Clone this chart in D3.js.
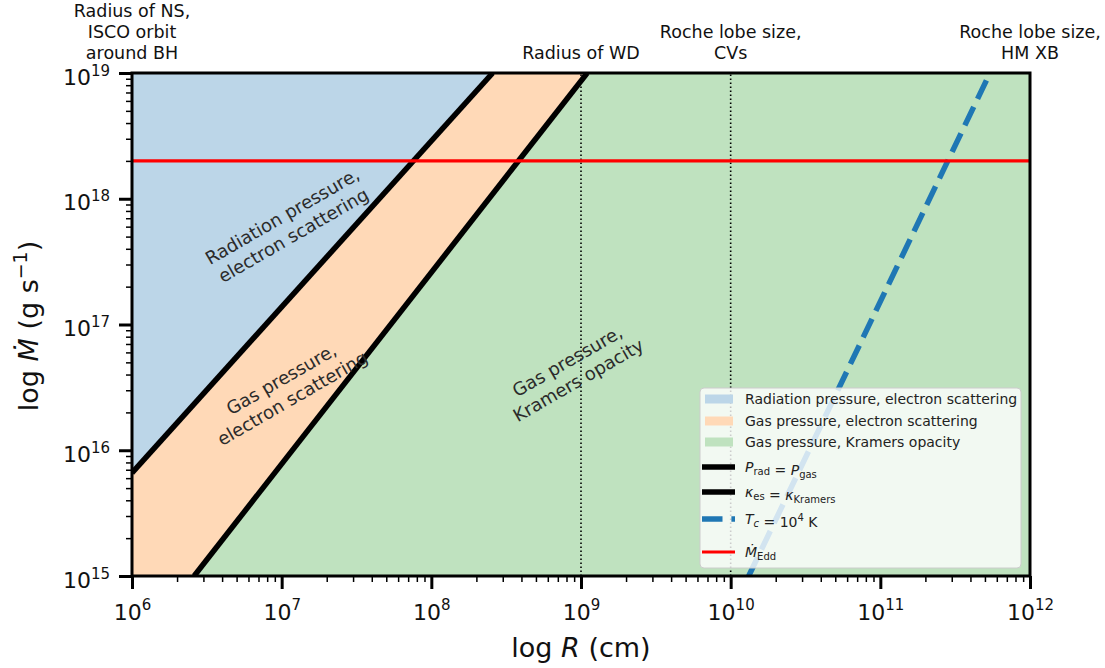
<!DOCTYPE html>
<html>
<head>
<meta charset="utf-8">
<script src="https://cdn.jsdelivr.net/npm/d3@7"></script>
<style>
  body { margin: 0; background: #fff; }
  text { font-family: 'DejaVu Sans', sans-serif; fill: #111; }
</style>
</head>
<body>
<svg id="chart" width="1105" height="668"></svg>
<script>
// boundary lines, as [R (cm), Mdot (g/s)] end points
const pradPgas = [[1e6, 6.6e15], [2.57e8, 1e19]]
const kesKramers = [[2.6e6, 1e15], [1.1e9, 1e19]]
const tc1e4 = [[1.32e10, 1e15], [5.4e11, 1e19]]
const mdotEdd = 2.0e18

// vertical markers and their labels
const dottedR = [1e9, 1e10]
const markerR = [1e6, 1e9, 1e10, 1e12]
const markerLabels = [
  ['Radius of NS,', 'ISCO orbit', 'around BH'],
  ['Radius of WD'],
  ['Roche lobe size,', 'CVs'],
  ['Roche lobe size,', 'HM XB']
]

// region names
const regionNames = [
  'Radiation pressure, electron scattering',
  'Gas pressure, electron scattering',
  'Gas pressure, Kramers opacity'
]
const regionColors = ['#bcd6e8', '#ffd9b7', '#bfe2bf']

// axis ticks
const xTicks = [1e6, 1e7, 1e8, 1e9, 1e10, 1e11, 1e12]
const yTicks = [1e15, 1e16, 1e17, 1e18, 1e19]

const svg = d3.select('#chart')
const pl = 132, pr = 1030, pt = 73, pb = 576

const x = d3.scaleLog().domain([1e6, 1e12]).range([pl, pr])
const y = d3.scaleLog().domain([1e15, 1e19]).range([pb, pt])

const [xmin, xmax] = x.domain()
const [ymin, ymax] = y.domain()

svg.append('clipPath').attr('id', 'plot')
  .append('rect')
  .attr('x', pl).attr('y', pt)
  .attr('width', pr - pl).attr('height', pb - pt)

const plot = svg.append('g').attr('clip-path', 'url(#plot)')

const line = d3.line()
  .x(function(d) { return x(d[0]) })
  .y(function(d) { return y(d[1]) })

// regions: green everywhere, orange left of kappa line, blue above Prad line
plot.append('path')
  .attr('d', line([[xmin, ymin], [xmax, ymin], [xmax, ymax], [xmin, ymax]]) + 'Z')
  .attr('fill', regionColors[2])
plot.append('path')
  .attr('d', line([[xmin, ymin]].concat(kesKramers, [[xmin, ymax]])) + 'Z')
  .attr('fill', regionColors[1])
plot.append('path')
  .attr('d', line(pradPgas.concat([[xmin, ymax]])) + 'Z')
  .attr('fill', regionColors[0])

// dotted verticals
plot.selectAll('.vline')
  .data(dottedR)
  .enter().append('line')
  .attr('x1', function(d) { return x(d) })
  .attr('x2', function(d) { return x(d) })
  .attr('y1', y(ymin)).attr('y2', y(ymax))
  .attr('stroke', '#000')
  .attr('stroke-width', 1.6)
  .attr('stroke-dasharray', '1.6,2.4')

plot.append('path').attr('d', line(pradPgas))
  .attr('fill', 'none').attr('stroke', '#000').attr('stroke-width', 5.5)
plot.append('path').attr('d', line(kesKramers))
  .attr('fill', 'none').attr('stroke', '#000').attr('stroke-width', 5.5)
plot.append('path').attr('d', line(tc1e4))
  .attr('fill', 'none').attr('stroke', '#1f77b4').attr('stroke-width', 5.5)
  .attr('stroke-dasharray', '20.5,8.9')
plot.append('path').attr('d', line([[xmin, mdotEdd], [xmax, mdotEdd]]))
  .attr('fill', 'none').attr('stroke', '#ff0000').attr('stroke-width', 3.2)

// region labels
const regionLabels = [
  {lines: ['Radiation pressure,', 'electron scattering'], cx: 288, cy: 226},
  {lines: ['Gas pressure,', 'electron scattering'], cx: 287, cy: 389},
  {lines: ['Gas pressure,', 'Kramers opacity'], cx: 573, cy: 371}
]
regionLabels.forEach(function(r) {
  const g = svg.append('g')
    .attr('transform', 'translate(' + r.cx + ',' + r.cy + ') rotate(-30)')
  r.lines.forEach(function(t, i) {
    g.append('text')
      .attr('x', 0).attr('y', -5 + i * 22)
      .attr('text-anchor', 'middle')
      .style('font-size', '18px').style('fill', '#2b2b2b')
      .text(t)
  })
})

// top labels for the markers
markerR.forEach(function(r, i) {
  const n = markerLabels[i].length
  markerLabels[i].forEach(function(t, j) {
    svg.append('text')
      .attr('x', x(r))
      .attr('y', 59 - (n - 1 - j) * 21)
      .attr('text-anchor', 'middle')
      .style('font-size', '17.5px')
      .text(t)
  })
})

// axes
const minorX = x.ticks().filter(function(d) { return xTicks.indexOf(d) < 0 })
const minorY = y.ticks().filter(function(d) { return yTicks.indexOf(d) < 0 })

function styleAxis(g) {
  g.select('.domain').remove()
  g.selectAll('.tick line').attr('stroke', '#000')
}

svg.append('g')
  .attr('transform', 'translate(0,' + pb + ')')
  .call(d3.axisBottom(x).tickValues(minorX).tickSize(6).tickFormat(''))
  .call(styleAxis)
  .selectAll('.tick line').attr('stroke-width', 1.5)
svg.append('g')
  .attr('transform', 'translate(' + pl + ',0)')
  .call(d3.axisLeft(y).tickValues(minorY).tickSize(6).tickFormat(''))
  .call(styleAxis)
  .selectAll('.tick line').attr('stroke-width', 1.5)

const xAxis = svg.append('g')
  .attr('transform', 'translate(0,' + pb + ')')
  .call(d3.axisBottom(x).tickValues(xTicks).tickSize(13).tickFormat(''))
  .call(styleAxis)
xAxis.selectAll('.tick line').attr('stroke-width', 3)
xAxis.selectAll('.tick').append('text')
  .attr('y', 44)
  .attr('text-anchor', 'middle')
  .style('font-size', '22px').style('fill', '#111')
  .each(function(d) {
    const t = d3.select(this)
    t.append('tspan').text('10')
    t.append('tspan').attr('dy', -10).style('font-size', '15px').text(Math.round(Math.log10(d)))
  })

const yAxis = svg.append('g')
  .attr('transform', 'translate(' + pl + ',0)')
  .call(d3.axisLeft(y).tickValues(yTicks).tickSize(13).tickFormat(''))
  .call(styleAxis)
yAxis.selectAll('.tick line').attr('stroke-width', 3)
yAxis.selectAll('.tick').append('text')
  .attr('x', -22).attr('y', 11)
  .attr('text-anchor', 'end')
  .style('font-size', '22px').style('fill', '#111')
  .each(function(d) {
    const t = d3.select(this)
    t.append('tspan').text('10')
    t.append('tspan').attr('dy', -9).style('font-size', '15px').text(Math.round(Math.log10(d)))
  })

// axis labels
const xl = svg.append('text')
  .attr('x', (pl + pr) / 2).attr('y', 657)
  .attr('text-anchor', 'middle')
  .style('font-size', '27px')
xl.append('tspan').text('log ')
xl.append('tspan').style('font-style', 'italic').text('R')
xl.append('tspan').text(' (cm)')

const yl = svg.append('text')
  .attr('transform', 'translate(38,' + 326 + ') rotate(-90)')
  .attr('text-anchor', 'middle')
  .style('font-size', '27px')
yl.append('tspan').text('log ')
yl.append('tspan').style('font-style', 'italic').text('M\u0307')
yl.append('tspan').text(' (g s')
yl.append('tspan').attr('dy', -11).style('font-size', '19px').text('\u22121')
yl.append('tspan').attr('dy', 11).text(')')

// legend
const lg = svg.append('g').attr('transform', 'translate(700,388)')
lg.append('rect')
  .attr('width', 321).attr('height', 180).attr('rx', 4)
  .attr('fill', '#fff').attr('fill-opacity', 0.8)
  .attr('stroke', '#ccc').attr('stroke-width', 1)

const patchY = [11, 33, 54]
regionNames.forEach(function(name, i) {
  lg.append('rect')
    .attr('x', 5).attr('y', patchY[i] - 4.5)
    .attr('width', 28).attr('height', 9)
    .attr('fill', regionColors[i])
  lg.append('text')
    .attr('x', 45).attr('y', patchY[i] + 5)
    .style('font-size', '14px').style('fill', '#222')
    .text(name)
})

const lineEntries = [
  {y: 79, color: '#000', dash: null, width: 5.5},
  {y: 104, color: '#000', dash: null, width: 5.5},
  {y: 131, color: '#1f77b4', dash: '20.5,8.9', width: 5.5},
  {y: 164, color: '#ff0000', dash: null, width: 3.2}
]
lineEntries.forEach(function(e) {
  lg.append('line')
    .attr('x1', 2).attr('x2', 35).attr('y1', e.y).attr('y2', e.y)
    .attr('stroke', e.color).attr('stroke-width', e.width)
    .attr('stroke-dasharray', e.dash)
})

function sub(t, main, s, italicMain, italicSub) {
  t.append('tspan').style('font-style', italicMain ? 'italic' : 'normal').text(main)
  t.append('tspan').attr('dy', 3).style('font-size', '10px')
    .style('font-style', italicSub ? 'italic' : 'normal').text(s)
  t.append('tspan').attr('dy', -3).text('')
}

let t = lg.append('text').attr('x', 45).attr('y', 84).style('font-size', '14px').style('fill', '#222')
sub(t, 'P', 'rad', true, false)
t.append('tspan').text(' = ')
sub(t, 'P', 'gas', true, false)

t = lg.append('text').attr('x', 45).attr('y', 109).style('font-size', '14px').style('fill', '#222')
sub(t, '\u03ba', 'es', true, false)
t.append('tspan').text(' = ')
sub(t, '\u03ba', 'Kramers', true, false)

t = lg.append('text').attr('x', 45).attr('y', 136).style('font-size', '14px').style('fill', '#222')
sub(t, 'T', 'c', true, true)
t.append('tspan').text(' = 10')
t.append('tspan').attr('dy', -6).style('font-size', '10px').text('4')
t.append('tspan').attr('dy', 6).text(' K')

t = lg.append('text').attr('x', 45).attr('y', 169).style('font-size', '14px').style('fill', '#222')
sub(t, 'M\u0307', 'Edd', true, false)

// frame
svg.append('rect')
  .attr('x', pl).attr('y', pt)
  .attr('width', pr - pl).attr('height', pb - pt)
  .attr('fill', 'none').attr('stroke', '#000').attr('stroke-width', 3)
</script>
</body>
</html>
